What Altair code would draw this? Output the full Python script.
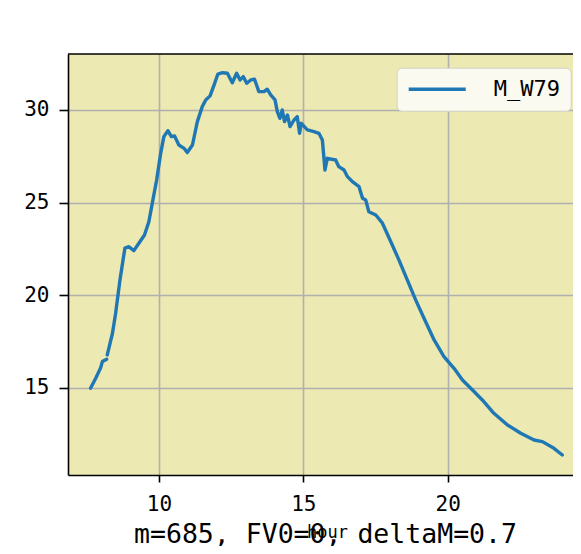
import altair as alt
import pandas as pd

# ---- data ----
hours = [7.63, 7.81, 7.98, 8.04, 8.19,
         8.21, 8.39, 8.50, 8.65, 8.82, 8.96, 9.13, 9.34, 9.50, 9.65, 9.77, 9.92,
         10.06, 10.17, 10.31, 10.43, 10.54, 10.69, 10.87, 10.98, 11.16, 11.33,
         11.50, 11.62, 11.77, 11.91, 12.04, 12.20, 12.37, 12.54, 12.69, 12.81,
         12.92, 13.04, 13.18, 13.31, 13.46, 13.64, 13.75, 13.87, 14.02, 14.10,
         14.19, 14.27, 14.35, 14.45, 14.54, 14.68, 14.79, 14.87, 14.93, 15.14,
         15.37, 15.54, 15.66, 15.75, 15.83, 16.12, 16.23, 16.41, 16.53, 16.70,
         16.93, 17.05, 17.16, 17.27, 17.51, 17.74, 18.03, 18.31, 18.60, 18.89,
         19.18, 19.53, 19.87, 20.22, 20.51, 20.86, 21.20, 21.60, 22.07, 22.53,
         22.99, 23.28, 23.68, 23.97]
values = [14.98, 15.52, 16.08, 16.42, 16.55,
          16.78, 17.95, 19.03, 20.83, 22.54, 22.62, 22.41, 22.89, 23.25, 23.97, 24.97, 26.22,
          27.66, 28.56, 28.88, 28.56, 28.60, 28.11, 27.93, 27.70, 28.11, 29.37,
          30.18, 30.54, 30.76, 31.35, 31.94, 32.01, 31.98, 31.47, 31.98, 31.62,
          31.80, 31.44, 31.62, 31.66, 30.99, 30.99, 31.12, 30.81, 30.54, 29.91,
          29.55, 30.00, 29.37, 29.73, 29.10, 29.46, 29.64, 28.74, 29.28, 28.92,
          28.83, 28.74, 28.38, 26.76, 27.39, 27.30, 26.94, 26.76, 26.40, 26.13,
          25.86, 25.23, 25.14, 24.51, 24.33, 23.89, 22.89, 21.91, 20.83, 19.75,
          18.76, 17.59, 16.69, 16.06, 15.43, 14.89, 14.35, 13.63, 13.00, 12.55,
          12.19, 12.10, 11.74, 11.38]
segments = [0] * 5 + [1] * (len(hours) - 5)
series_name = "M_W79"
caption = "m=685, FV0=0, deltaM=0.7"
x_ticks = [10, 15, 20]
y_ticks = [15, 20, 25, 30]
x_title = "hour"

df = pd.DataFrame({"hour": hours, "value": values, "seg": segments,
                   "series": [series_name] * len(hours)})

W, H = 505, 421
FONT = "DejaVu Sans Mono"

line = alt.Chart(df).mark_line(strokeWidth=3.4, strokeJoin="round", strokeCap="round").encode(
    x=alt.X("hour:Q",
            scale=alt.Scale(domain=[6.85, 24.34], nice=False, zero=False),
            axis=alt.Axis(values=x_ticks, title=x_title, tickSize=7, labelPadding=11,
                          labelFontSize=21, titleFontSize=17, titleFontWeight="normal",
                          titleBaseline="alphabetic", titleX=259, titleY=62,
                          titleAlign="center", titleColor="black")),
    y=alt.Y("value:Q",
            scale=alt.Scale(domain=[10.30, 33.02], nice=False, zero=False),
            axis=alt.Axis(values=y_ticks, title=None, tickSize=9, labelPadding=10,
                          labelFontSize=21)),
    color=alt.Color("series:N", scale=alt.Scale(range=["#1f77b4"]),
                    legend=alt.Legend(title=None, orient="none", legendX=328.7, legendY=13.7,
                                      symbolType="M-1,0H5", symbolSize=361,
                                      symbolStrokeWidth=3.4, labelOffset=64,
                                      labelFont=FONT, labelFontSize=22, labelColor="black",
                                      fillColor="#fbfaf1", strokeColor="#d3d2c8",
                                      cornerRadius=5, padding=10)),
    detail="seg:N",
)

top_border = alt.Chart(pd.DataFrame({"a": [0]})).mark_rule(
    color="black", strokeWidth=1.6).encode(
    x=alt.value(0), x2=alt.value(W), y=alt.value(0))

bottom_text = alt.Chart(pd.DataFrame({"t": [caption]})).mark_text(
    font=FONT, fontSize=26.5, color="black", align="center", baseline="alphabetic").encode(
    text="t:N", x=alt.value(257.5), y=alt.value(489))

chart = alt.layer(line, top_border, bottom_text).properties(
    width=W, height=H,
    autosize=alt.AutoSizeParams(type="none"),
    padding={"left": 60, "top": 46, "right": 0, "bottom": 71},
).configure_view(
    fill="#ece9b2", stroke=None
).configure_axis(
    domainColor="black", domainWidth=1.6, tickColor="black", tickWidth=1.6,
    labelFont=FONT, labelColor="black", titleFont=FONT,
    grid=True, gridColor="#b0b0b0", gridWidth=1.6,
)

chart.save("out.html", embed_options={"renderer": "svg", "actions": False})
